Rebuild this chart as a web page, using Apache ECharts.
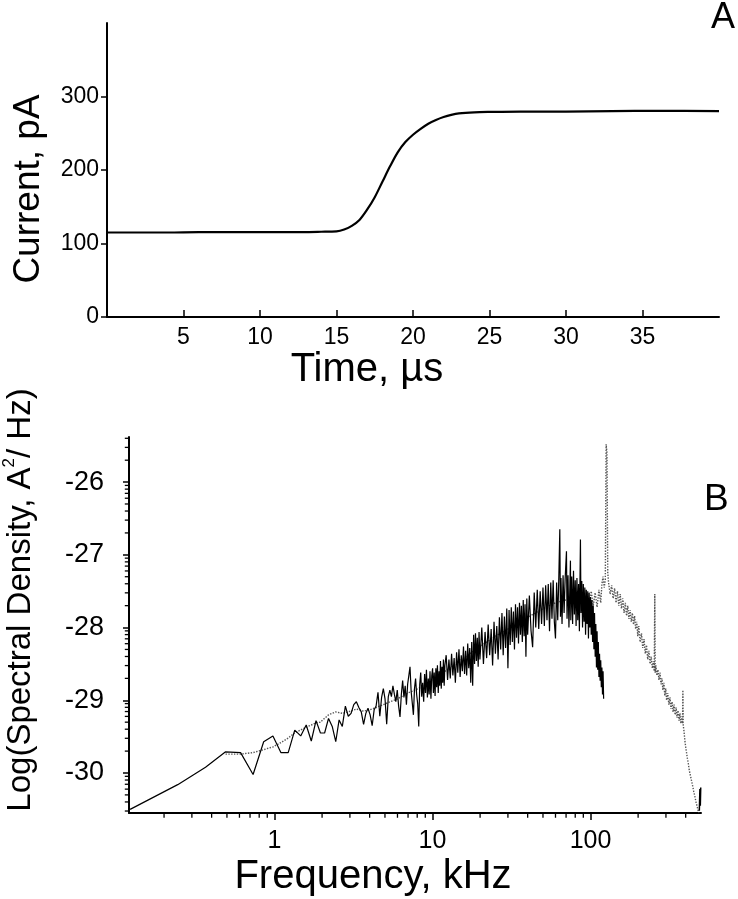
<!DOCTYPE html>
<html><head><meta charset="utf-8">
<script src="https://cdn.jsdelivr.net/npm/echarts@6/dist/echarts.min.js"></script>
<style>html,body{margin:0;padding:0;background:#fff}#c{width:738px;height:899px}</style>
</head><body><div id="c"></div>
<script>
// ---- Panel A: current vs time ----
const timeUs = [0,2,4,6,8,10,12,14,15,15.5,16,16.5,17,17.5,18,18.5,19,19.5,20,20.5,21,21.5,22,22.5,23,24,25,27,30,33,36,40];
const currentPA = [115,115,115,115.5,115.5,115.5,115.5,116,116.5,119,124,132,146,163,184,205,224,238,248,256,263,268,272,275,277,278.5,279,279.5,279.5,280,280.5,280];
const timeTicks = [5,10,15,20,25,30,35];
const currentTicks = [0,100,200,300];

// ---- Panel B: log10 spectral density vs frequency (kHz) ----
const blackSpectrum = [
[0.122,-30.5],[0.244,-30.16],[0.366,-29.92],[0.488,-29.71],[0.61,-29.72],[0.732,-30.02],[0.854,-29.57],[0.977,-29.49],[1.099,-29.72],[1.221,-29.72],
[1.343,-29.41],[1.465,-29.49],[1.587,-29.34],[1.709,-29.56],[1.831,-29.28],[1.953,-29.45],[2.075,-29.45],[2.197,-29.25],[2.319,-29.36],[2.441,-29.57],
[2.563,-29.27],[2.686,-29.36],[2.808,-29.08],[2.93,-29.22],[3.052,-29.18],[3.174,-29.06],[3.296,-29.02],[3.418,-29.1],[3.54,-29.16],[3.662,-29.33],
[3.784,-29.18],[3.906,-29.11],[4.028,-29.2],[4.15,-29.35],[4.272,-29.13],[4.394,-29.08],[4.517,-28.89],[4.639,-29.22],[4.761,-28.96],[4.883,-28.84],
[5.005,-28.98],[5.127,-29.33],[5.249,-28.95],[5.371,-28.86],[5.493,-28.95],[5.615,-28.8],[5.737,-28.92],[5.859,-29.02],[5.981,-28.86],[6.103,-29.08],
[6.226,-29.23],[6.348,-28.92],[6.47,-28.73],[6.592,-28.96],[6.714,-28.8],[6.836,-29.06],[6.958,-28.78],[7.08,-28.66],[7.202,-28.54],[7.324,-28.88],
[7.446,-29.04],[7.568,-29.2],[7.69,-28.84],[7.812,-28.7],[7.935,-28.92],[8.057,-29.05],[8.179,-29.36],[8.301,-28.78],
[8.42,-28.62],[8.54,-28.95],[8.66,-28.76],[8.79,-29.02],[8.91,-28.64],[9.03,-28.9],[9.15,-28.58],[9.28,-28.96],[9.4,-28.7],[9.52,-28.92],
[9.64,-28.6],[9.77,-28.98],[9.89,-28.66],[10.01,-28.56],[10.13,-28.9],[10.25,-28.62],[10.38,-28.94],[10.5,-28.56],[10.62,-28.82],[10.74,-28.52],
[10.87,-28.9],[10.99,-28.6],[11.11,-28.8],[11.23,-28.46],[11.36,-28.84],[11.48,-28.54],[11.6,-28.76],[11.72,-28.44],[11.85,-28.8],[11.97,-28.52],
[12.2,-28.38],[12.45,-28.72],[12.7,-28.44],[12.95,-28.7],[13.2,-28.36],[13.45,-28.66],[13.7,-28.42],[13.95,-28.76],[14.2,-28.34],[14.45,-28.62],
[14.7,-28.3],[14.95,-28.68],[15.2,-28.38],[15.45,-28.6],[15.7,-28.26],[15.95,-28.64],[16.2,-28.32],[16.45,-28.66],[16.7,-28.22],[16.95,-28.56],
[17.2,-28.28],[17.45,-28.76],[17.7,-28.2],[17.95,-28.8],[18.2,-28.1],[18.45,-28.5],[18.7,-28.08],[18.95,-28.46],[19.2,-28.14],[19.45,-28.54],
[19.7,-28.06],[19.95,-28.44],
[20.5,-28.0],[21,-28.5],[21.5,-28.06],[22,-28.42],[22.5,-27.96],[23,-28.38],[23.5,-28.02],[24,-28.52],[24.5,-27.92],[25,-28.36],
[25.5,-27.98],[26,-28.44],[26.5,-27.86],[27,-28.3],[27.5,-27.8],[28,-28.38],[28.5,-27.85],[29,-28.28],[29.5,-27.74],[30,-28.56],
[30.5,-27.76],[31,-28.24],[31.5,-27.72],[32,-28.2],[32.5,-27.78],[33,-28.3],[33.5,-27.68],[34,-28.14],[34.5,-27.72],[35,-28.22],
[35.5,-27.66],[36,-28.1],[36.5,-27.7],[37,-28.2],[37.5,-27.62],[38,-28.12],[38.5,-27.68],[39,-28.4],[39.5,-27.6],
[40,-28.1],[41,-27.56],[42,-28.04],[43,-28.27],[44,-27.52],[45,-28.0],[46,-27.48],[47,-28.02],[48,-27.5],[49,-27.95],
[50,-27.45],[51,-27.98],[52,-27.42],[53,-27.9],[54,-27.4],[55,-28.05],[56,-27.38],[57,-27.88],[58,-27.35],[59,-27.92],
[60,-28.15],[61,-27.38],[62,-27.9],[63,-27.3],[63.9,-26.65],[64.5,-27.85],[65,-27.32],[66,-27.95],[67,-27.28],[68,-27.8],
[69,-27.35],[70.4,-26.95],[71,-27.88],[72,-27.28],[73,-28.0],[74.6,-27.08],[75,-27.9],[76,-27.3],[77,-27.95],[78,-27.22],
[79,-27.82],[80,-27.35],[81,-27.98],[82,-27.32],[83,-27.9],[84,-27.4],[85,-28.05],[86.3,-26.79],[87,-27.8],[88,-27.36],
[89,-28.0],[90,-27.4],[91,-27.92],[92,-27.45],[93,-28.1],[94,-27.48],[95,-27.95],[96,-27.5],[97,-28.15],[98,-27.52],
[99,-28.0],[100,-27.58],[101,-28.1],[102,-27.62],[103,-28.2],[104,-27.7],[105,-28.3],[106,-27.8],[107,-28.4],[108,-27.95],
[109,-28.55],[110,-28.05],[111,-28.58],[112,-28.2],[113,-28.68],[114,-28.36],[115,-28.73],[116,-28.45],[117,-28.82],[118,-28.55],
[119,-28.92],[120,-28.6],[121,-28.98]
];
const blackTail = [[488,-30.52],[492,-30.22],[495,-30.45],[498,-30.2]];
const greySpectrum = [
[0.49,-29.74],[0.61,-29.74],[0.73,-29.72],[0.85,-29.68],[0.98,-29.64],[1.1,-29.58],[1.22,-29.52],[1.34,-29.45],[1.46,-29.41],[1.59,-29.37],
[1.71,-29.34],[1.83,-29.31],[1.95,-29.3],[2.2,-29.2],[2.44,-29.16],[2.69,-29.18],[2.93,-29.16],[3.3,-29.12],[3.66,-29.15],[4.03,-29.13],
[4.4,-29.1],[5,-29.05],[6,-28.98],[7,-28.9],[8.5,-28.82],[10,-28.72],[12,-28.6],[15,-28.45],[20,-28.26],[25,-28.12],
[30,-28.02],[40,-27.86],[50,-27.74],[60,-27.66],[70,-27.62],[80,-27.6],[90,-27.62],
[95,-27.54],[98,-27.7],[101,-27.5],[104,-27.7],[107,-27.52],[110,-27.72],[113,-27.48],[116,-27.66],[118,-27.4],[120,-27.3],
[122,-27.45],[124,-27.35],[125.5,-25.48],[127,-25.6],[128.5,-27.25],[130,-27.38],[133,-27.54],[136,-27.42],[139,-27.6],[142,-27.46],
[145,-27.66],[148,-27.5],[151,-27.7],[154,-27.54],[157,-27.74],[160,-27.6],[163,-27.8],[166,-27.66],[169,-27.84],[172,-27.7],
[175,-27.88],[178,-27.76],[181,-27.92],[184,-27.8],[187,-27.96],[190,-27.84],[193,-28.02],[196,-27.92],[199,-28.12],[202,-27.98],
[206,-28.2],[210,-28.08],[214,-28.28],[218,-28.16],[222,-28.36],[226,-28.24],[230,-28.44],[234,-28.32],[238,-28.5],[242,-28.4],
[246,-28.56],[250,-28.46],[253,-28.6],[255,-27.54],[256.5,-28.62],[259,-28.52],[263,-28.66],[267,-28.58],[271,-28.72],[275,-28.62],
[279,-28.78],[283,-28.7],[287,-28.86],[291,-28.76],[295,-28.94],[299,-28.84],[303,-29.0],[308,-28.9],[313,-29.06],[318,-28.96],
[323,-29.12],[328,-29.02],[333,-29.16],[338,-29.06],[343,-29.2],[348,-29.1],[353,-29.24],[358,-29.14],[363,-29.28],[368,-29.18],
[373,-29.32],[378,-29.22],[382,-29.32],[384,-28.86],[386,-29.34],[390,-29.42],[395,-29.55],[400,-29.64],[405,-29.72],[410,-29.8],
[415,-29.86],[420,-29.94],[425,-30.0],[430,-30.05],[435,-30.1],[440,-30.15],[445,-30.2],[450,-30.26],[455,-30.3],[460,-30.35],
[465,-30.4],[470,-30.44],[475,-30.48],[480,-30.52],[485,-30.55]
];
const freqRange = [0.12, 500];
const logSRange = [-30.55, -25.38];
const freqMinorTicks = [0.2,0.3,0.4,0.5,0.6,0.7,0.8,0.9,2,3,4,5,6,7,8,9,20,30,40,50,60,70,80,90,200,300,400];
const minorMultipliers = [2,3,4,5,6,7,8,9];
const logSDecades = [-31,-30,-29,-28,-27,-26];

// Panel B's y axis is a log axis of spectral density. Values are carried with
// a 1e30 factor so the library's log scale keeps precision; labels show log10.
const OFFSET = 30;
const toAxis = v => Math.pow(10, v + OFFSET);
const toPairs = arr => arr.map(p => [p[0], toAxis(p[1])]);
const yMinAxis = toAxis(logSRange[0]);
const yMaxAxis = toAxis(logSRange[1]);
const yMinorTicks = [];
logSDecades.forEach(d => minorMultipliers.forEach(k => {
  const val = k * Math.pow(10, d + OFFSET);
  if (val > yMinAxis && val < yMaxAxis) yMinorTicks.push(val);
}));

const FONT = "'Liberation Sans',Arial,Helvetica,sans-serif";

const chart = echarts.init(document.getElementById('c'), null, {renderer: 'canvas'});
const axisLine = {show: true, onZero: false, lineStyle: {color: '#000', width: 2}};

chart.setOption({
  backgroundColor: '#fff',
  animation: false,
  grid: [
    {left: 107, right: 19, top: 23, height: 294, outerBoundsMode: 'none', containLabel: false},
    {left: 129, right: 37, top: 437, height: 376, outerBoundsMode: 'none', containLabel: false}
  ],
  xAxis: [
    {
      gridIndex: 0, type: 'value', min: 0, max: 40, interval: 5,
      axisLine: axisLine,
      axisTick: {show: true, inside: true, length: 7, lineStyle: {color: '#000', width: 1.5}, customValues: timeTicks},
      axisLabel: {color: '#000', fontSize: 23, fontFamily: FONT, margin: 9, customValues: timeTicks},
      splitLine: {show: false},
      name: 'Time, \u00b5s', nameLocation: 'middle', nameGap: 28,
      nameTextStyle: {color: '#000', fontSize: 40, fontFamily: FONT, padding: [0, 92, 0, 0]}
    },
    {
      gridIndex: 1, type: 'log', logBase: 10, min: freqRange[0], max: freqRange[1],
      axisLine: axisLine,
      axisTick: {show: true, length: 7, lineStyle: {color: '#000', width: 1.5}},
      axisLabel: {color: '#000', fontSize: 25, fontFamily: FONT, margin: 16, showMinLabel: false, showMaxLabel: false},
      splitLine: {show: false},
      name: 'Frequency, kHz', nameLocation: 'middle', nameGap: 44,
      nameTextStyle: {color: '#000', fontSize: 40, fontFamily: FONT, padding: [0, 84, 0, 0]}
    }
  ],
  yAxis: [
    {
      gridIndex: 0, type: 'value', min: 0, max: 400, interval: 100,
      axisLine: axisLine,
      axisTick: {show: true, length: 6, lineStyle: {color: '#000', width: 1.5}, customValues: currentTicks},
      axisLabel: {color: '#000', fontSize: 23, fontFamily: FONT, margin: 8, customValues: currentTicks},
      splitLine: {show: false},
      name: 'Current, pA', nameLocation: 'middle', nameGap: 60,
      nameTextStyle: {color: '#000', fontSize: 37, fontFamily: FONT, padding: [0, 38, 0, 0]}
    },
    {
      gridIndex: 1, type: 'log', logBase: 10, min: yMinAxis, max: yMaxAxis,
      axisLine: axisLine,
      axisTick: {show: true, length: 6, lineStyle: {color: '#000', width: 1.5}},
      axisLabel: {color: '#000', fontSize: 27, fontFamily: FONT, margin: 25, showMinLabel: false, showMaxLabel: false,
        formatter: v => String(Math.round(Math.log10(v)) - OFFSET)},
      splitLine: {show: false},
      name: 'Log(Spectral Density, A{sup|2}/ Hz)', nameLocation: 'middle', nameGap: 89,
      nameTextStyle: {color: '#000', fontSize: 33, fontFamily: FONT, padding: [0, 0, 0, 50],
        rich: {sup: {fontSize: 17, fontFamily: FONT, color: '#000', padding: [0, 0, 22, 0]}}}
    }
  ],
  series: [
    {
      type: 'line', xAxisIndex: 0, yAxisIndex: 0, showSymbol: false, smooth: 0.3,
      lineStyle: {color: '#000', width: 2.2},
      data: timeUs.map((t, i) => [t, currentPA[i]])
    },
    {
      type: 'line', xAxisIndex: 1, yAxisIndex: 1, showSymbol: false, z: 2,
      lineStyle: {color: '#555', width: 1.4, type: 'dotted'},
      data: toPairs(greySpectrum)
    },
    {
      type: 'line', xAxisIndex: 1, yAxisIndex: 1, showSymbol: false, z: 3,
      lineStyle: {color: '#000', width: 1.2},
      data: toPairs(blackSpectrum)
    },
    {
      type: 'line', xAxisIndex: 1, yAxisIndex: 1, showSymbol: false, z: 3,
      lineStyle: {color: '#000', width: 1.5},
      data: toPairs(blackTail)
    },
    {
      // minor ticks of the log frequency axis (2..9 per decade)
      type: 'scatter', xAxisIndex: 1, yAxisIndex: 1, clip: false, silent: true, z: 5,
      symbol: 'rect', symbolSize: [1.3, 4.5], symbolOffset: [0, 2.5],
      itemStyle: {color: '#000', opacity: 1},
      data: freqMinorTicks.map(f => [f, yMinAxis])
    },
    {
      // minor ticks of the log spectral-density axis (2..9 per decade)
      type: 'scatter', xAxisIndex: 1, yAxisIndex: 1, clip: false, silent: true, z: 5,
      symbol: 'rect', symbolSize: [4, 1.3], symbolOffset: [-2.2, 0],
      itemStyle: {color: '#000', opacity: 1},
      data: yMinorTicks.map(v => [freqRange[0], v])
    }
  ],
  graphic: [
    {type: 'text', left: 711, top: 0, style: {text: 'A', fontSize: 36, fontFamily: FONT, fill: '#000'}},
    {type: 'text', left: 704, top: 481, style: {text: 'B', fontSize: 37, fontFamily: FONT, fill: '#000'}}
  ]
});
</script></body></html>
